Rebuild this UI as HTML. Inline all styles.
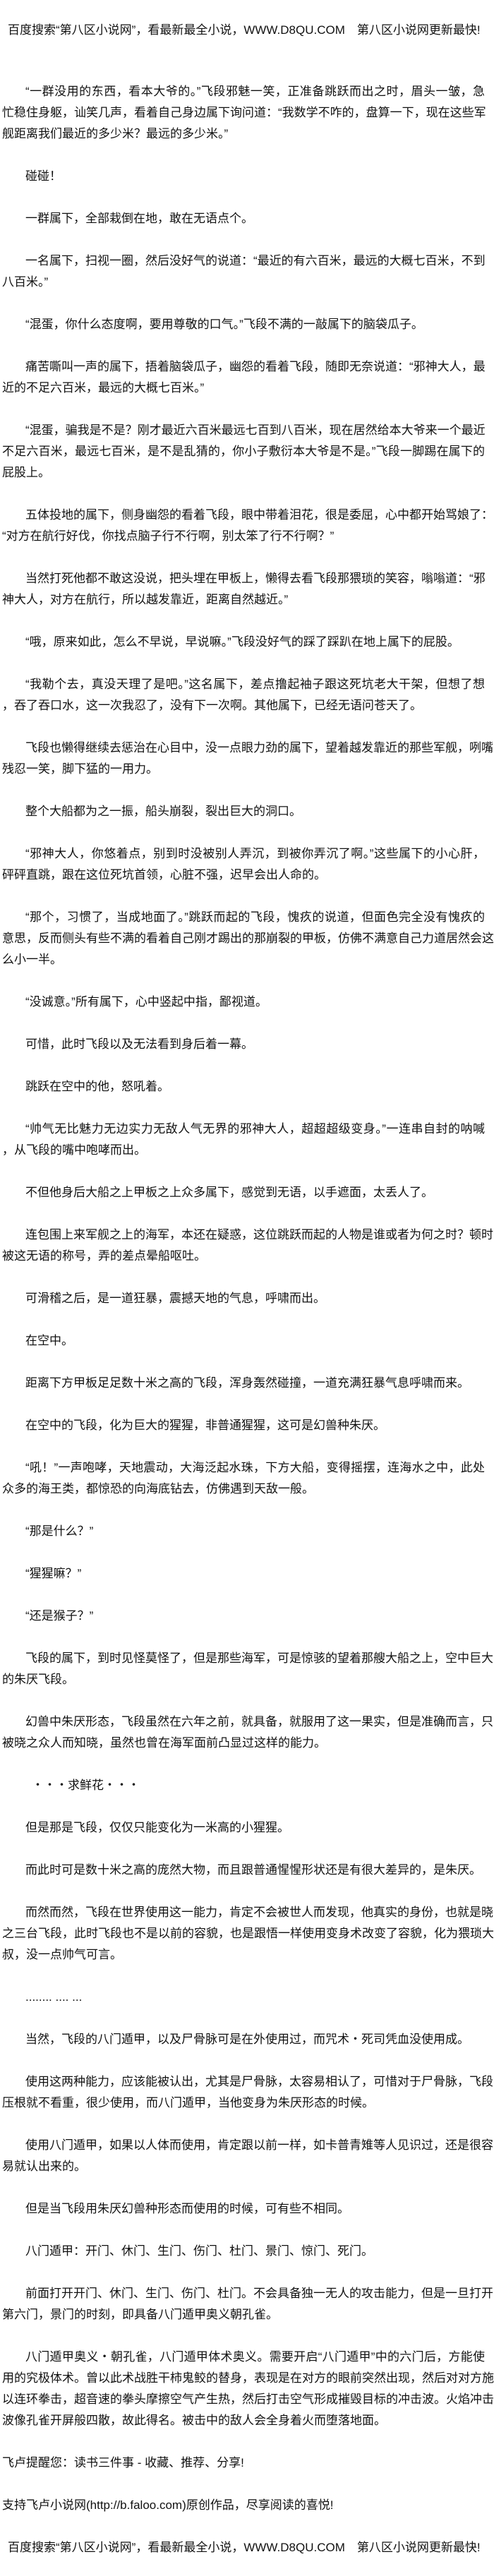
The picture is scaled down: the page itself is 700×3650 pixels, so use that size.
<!DOCTYPE html>
<html><head><meta charset="utf-8">
<style>
html,body{margin:0;padding:0;background:#fff;}
body{width:700px;height:3650px;position:relative;overflow:hidden;font-family:"Liberation Sans","Noto Sans CJK SC",sans-serif;font-size:17px;color:#111;}
div.t{position:absolute;height:30px;line-height:30px;white-space:nowrap;}
.f{left:3px;width:684px;text-align:justify;text-align-last:justify;}
.i{left:36px;width:651px;text-align:justify;text-align-last:justify;}
.e{left:36px;}
.l{left:3px;}
.h{left:11px;width:669px;text-align:justify;text-align-last:justify;}
</style></head><body>
<div class="t h" style="top:28px">百度搜索“第八区小说网”，看最新最全小说，WWW.D8QU.COM　第八区小说网更新最快!</div>

<div class="t i" style="top:115px">“一群没用的东西，看本大爷的。”飞段邪魅一笑，正准备跳跃而出之时，眉头一皱，急</div>
<div class="t f" style="top:145px">忙稳住身躯，讪笑几声，看着自己身边属下询问道：“我数学不咋的，盘算一下，现在这些军</div>
<div class="t l" style="top:175px">舰距离我们最近的多少米？最远的多少米。”</div>
<div class="t e" style="top:235px">碰碰！</div>
<div class="t e" style="top:295px">一群属下，全部栽倒在地，敢在无语点个。</div>
<div class="t i" style="top:355px">一名属下，扫视一圈，然后没好气的说道：“最近的有六百米，最远的大概七百米，不到</div>
<div class="t l" style="top:385px">八百米。”</div>
<div class="t e" style="top:445px">“混蛋，你什么态度啊，要用尊敬的口气。”飞段不满的一敲属下的脑袋瓜子。</div>
<div class="t i" style="top:505px">痛苦嘶叫一声的属下，捂着脑袋瓜子，幽怨的看着飞段，随即无奈说道：“邪神大人，最</div>
<div class="t l" style="top:535px">近的不足六百米，最远的大概七百米。”</div>
<div class="t i" style="top:595px">“混蛋，骗我是不是？刚才最近六百米最远七百到八百米，现在居然给本大爷来一个最近</div>
<div class="t f" style="top:625px">不足六百米，最远七百米，是不是乱猜的，你小子敷衍本大爷是不是。”飞段一脚踢在属下的</div>
<div class="t l" style="top:655px">屁股上。</div>
<div class="t i" style="top:715px">五体投地的属下，侧身幽怨的看着飞段，眼中带着泪花，很是委屈，心中都开始骂娘了：</div>
<div class="t l" style="top:745px">“对方在航行好伐，你找点脑子行不行啊，别太笨了行不行啊？”</div>
<div class="t i" style="top:805px">当然打死他都不敢这没说，把头埋在甲板上，懒得去看飞段那猥琐的笑容，嗡嗡道：“邪</div>
<div class="t l" style="top:835px">神大人，对方在航行，所以越发靠近，距离自然越近。”</div>
<div class="t e" style="top:895px">“哦，原来如此，怎么不早说，早说嘛。”飞段没好气的踩了踩趴在地上属下的屁股。</div>
<div class="t i" style="top:955px">“我勒个去，真没天理了是吧。”这名属下，差点撸起袖子跟这死坑老大干架，但想了想</div>
<div class="t l" style="top:985px">，吞了吞口水，这一次我忍了，没有下一次啊。其他属下，已经无语问苍天了。</div>
<div class="t i" style="top:1045px">飞段也懒得继续去惩治在心目中，没一点眼力劲的属下，望着越发靠近的那些军舰，咧嘴</div>
<div class="t l" style="top:1075px">残忍一笑，脚下猛的一用力。</div>
<div class="t e" style="top:1135px">整个大船都为之一振，船头崩裂，裂出巨大的洞口。</div>
<div class="t i" style="top:1195px">“邪神大人，你悠着点，别到时没被别人弄沉，到被你弄沉了啊。”这些属下的小心肝，</div>
<div class="t l" style="top:1225px">砰砰直跳，跟在这位死坑首领，心脏不强，迟早会出人命的。</div>
<div class="t i" style="top:1285px">“那个，习惯了，当成地面了。”跳跃而起的飞段，愧疚的说道，但面色完全没有愧疚的</div>
<div class="t f" style="top:1315px">意思，反而侧头有些不满的看着自己刚才踢出的那崩裂的甲板，仿佛不满意自己力道居然会这</div>
<div class="t l" style="top:1345px">么小一半。</div>
<div class="t e" style="top:1405px">“没诚意。”所有属下，心中竖起中指，鄙视道。</div>
<div class="t e" style="top:1465px">可惜，此时飞段以及无法看到身后着一幕。</div>
<div class="t e" style="top:1525px">跳跃在空中的他，怒吼着。</div>
<div class="t i" style="top:1585px">“帅气无比魅力无边实力无敌人气无界的邪神大人，超超超级变身。”一连串自封的呐喊</div>
<div class="t l" style="top:1615px">，从飞段的嘴中咆哮而出。</div>
<div class="t e" style="top:1675px">不但他身后大船之上甲板之上众多属下，感觉到无语，以手遮面，太丢人了。</div>
<div class="t i" style="top:1735px">连包围上来军舰之上的海军，本还在疑惑，这位跳跃而起的人物是谁或者为何之时？顿时</div>
<div class="t l" style="top:1765px">被这无语的称号，弄的差点晕船呕吐。</div>
<div class="t e" style="top:1825px">可滑稽之后，是一道狂暴，震撼天地的气息，呼啸而出。</div>
<div class="t e" style="top:1885px">在空中。</div>
<div class="t e" style="top:1945px">距离下方甲板足足数十米之高的飞段，浑身轰然碰撞，一道充满狂暴气息呼啸而来。</div>
<div class="t e" style="top:2005px">在空中的飞段，化为巨大的猩猩，非普通猩猩，这可是幻兽种朱厌。</div>
<div class="t i" style="top:2065px">“吼！”一声咆哮，天地震动，大海泛起水珠，下方大船，变得摇摆，连海水之中，此处</div>
<div class="t l" style="top:2095px">众多的海王类，都惊恐的向海底钻去，仿佛遇到天敌一般。</div>
<div class="t e" style="top:2155px">“那是什么？”</div>
<div class="t e" style="top:2215px">“猩猩嘛？”</div>
<div class="t e" style="top:2275px">“还是猴子？”</div>
<div class="t i" style="top:2335px">飞段的属下，到时见怪莫怪了，但是那些海军，可是惊骇的望着那艘大船之上，空中巨大</div>
<div class="t l" style="top:2365px">的朱厌飞段。</div>
<div class="t i" style="top:2425px">幻兽中朱厌形态，飞段虽然在六年之前，就具备，就服用了这一果实，但是准确而言，只</div>
<div class="t l" style="top:2455px">被晓之众人而知晓，虽然也曾在海军面前凸显过这样的能力。</div>
<div class="t l" style="top:2515px;left:45px">・・・求鲜花・・・</div>
<div class="t e" style="top:2575px">但是那是飞段，仅仅只能变化为一米高的小猩猩。</div>
<div class="t e" style="top:2635px">而此时可是数十米之高的庞然大物，而且跟普通惺惺形状还是有很大差异的，是朱厌。</div>
<div class="t i" style="top:2695px">而然而然，飞段在世界使用这一能力，肯定不会被世人而发现，他真实的身份，也就是晓</div>
<div class="t f" style="top:2725px">之三台飞段，此时飞段也不是以前的容貌，也是跟悟一样使用变身术改变了容貌，化为猥琐大</div>
<div class="t l" style="top:2755px">叔，没一点帅气可言。</div>
<div class="t e" style="top:2815px">........ .... ...</div>
<div class="t e" style="top:2875px">当然，飞段的八门遁甲，以及尸骨脉可是在外使用过，而咒术・死司凭血没使用成。</div>
<div class="t i" style="top:2935px">使用这两种能力，应该能被认出，尤其是尸骨脉，太容易相认了，可惜对于尸骨脉，飞段</div>
<div class="t l" style="top:2965px">压根就不看重，很少使用，而八门遁甲，当他变身为朱厌形态的时候。</div>
<div class="t i" style="top:3025px">使用八门遁甲，如果以人体而使用，肯定跟以前一样，如卡普青雉等人见识过，还是很容</div>
<div class="t l" style="top:3055px">易就认出来的。</div>
<div class="t e" style="top:3115px">但是当飞段用朱厌幻兽种形态而使用的时候，可有些不相同。</div>
<div class="t e" style="top:3175px">八门遁甲：开门、休门、生门、伤门、杜门、景门、惊门、死门。</div>
<div class="t i" style="top:3235px">前面打开开门、休门、生门、伤门、杜门。不会具备独一无人的攻击能力，但是一旦打开</div>
<div class="t l" style="top:3265px">第六门，景门的时刻，即具备八门遁甲奥义朝孔雀。</div>
<div class="t i" style="top:3325px">八门遁甲奥义・朝孔雀，八门遁甲体术奥义。需要开启“八门遁甲”中的六门后，方能使</div>
<div class="t f" style="top:3355px">用的究极体术。曾以此术战胜干柿鬼鲛的替身，表现是在对方的眼前突然出现，然后对对方施</div>
<div class="t f" style="top:3385px">以连环拳击，超音速的拳头摩擦空气产生热，然后打击空气形成摧毁目标的冲击波。火焰冲击</div>
<div class="t l" style="top:3415px">波像孔雀开屏般四散，故此得名。被击中的敌人会全身着火而堕落地面。</div>
<div class="t l" style="top:3475px">飞卢提醒您：读书三件事 - 收藏、推荐、分享!</div>
<div class="t l" style="top:3535px">支持飞卢小说网(http://b.faloo.com)原创作品，尽享阅读的喜悦!</div>
<div class="t h" style="top:3595px">百度搜索“第八区小说网”，看最新最全小说，WWW.D8QU.COM　第八区小说网更新最快!</div>
</body></html>
